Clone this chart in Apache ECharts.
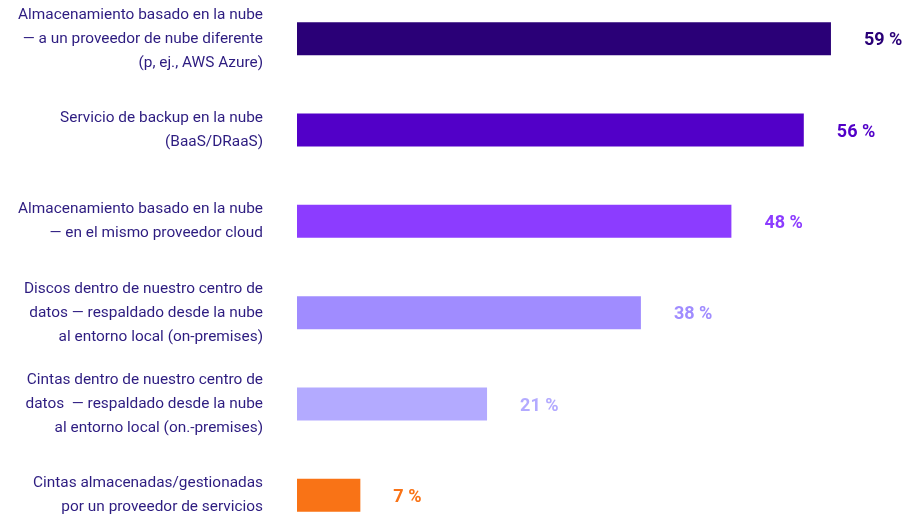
<!DOCTYPE html>
<html>
<head>
<meta charset="utf-8">
<script src="https://cdn.jsdelivr.net/npm/echarts@6/dist/echarts.min.js"></script>
<style>html,body{margin:0;padding:0;background:#fff;overflow:hidden}#c{position:absolute;left:0;top:-7px;width:905px;height:548px}</style>
</head>
<body>
<div id="c"></div>
<script>
const categories = [
  "Almacenamiento basado en la nube\n— a un proveedor de nube diferente\n(p, ej., AWS Azure)",
  "Servicio de backup en la nube\n(BaaS/DRaaS)",
  "Almacenamiento basado en la nube\n— en el mismo proveedor cloud",
  "Discos dentro de nuestro centro de\ndatos — respaldado desde la nube\nal entorno local (on-premises)",
  "Cintas dentro de nuestro centro de\ndatos  — respaldado desde la nube\nal entorno local (on.-premises)",
  "Cintas almacenadas/gestionadas\npor un proveedor de servicios"
];
const values = [59, 56, 48, 38, 21, 7];
const colors = ["#2a0077", "#5200c8", "#8c3cff", "#a08cff", "#b3aaff", "#f97316"];

const chart = echarts.init(document.getElementById('c'), null, {renderer: 'canvas'});
chart.setOption({
  animation: false,
  grid: {left: 297, right: 65, top: 0, bottom: 0, containLabel: false},
  xAxis: {type: 'value', min: 0, max: 60, show: false},
  yAxis: {
    type: 'category', inverse: true,
    data: categories.map((c, i) => i === 0 ? {value: c, textStyle: {padding: [8, 0, 0, 0]}} : c),
    axisLine: {show: false}, axisTick: {show: false}, splitLine: {show: false},
    axisLabel: {
      margin: 34, align: 'right', color: '#2d1c80',
      fontFamily: 'Roboto', fontSize: 15.4, lineHeight: 24
    }
  },
  series: [{
    type: 'bar', barWidth: 33,
    data: values.map((v, i) => ({
      value: v,
      itemStyle: {color: colors[i]},
      label: {color: colors[i]}
    })),
    label: {
      show: true, position: 'right', distance: 33, offset: [0, 2],
      formatter: p => p.value + ' %',
      fontFamily: 'Roboto', fontWeight: 'bold', fontSize: 18
    }
  }]
});
</script>
</body>
</html>
